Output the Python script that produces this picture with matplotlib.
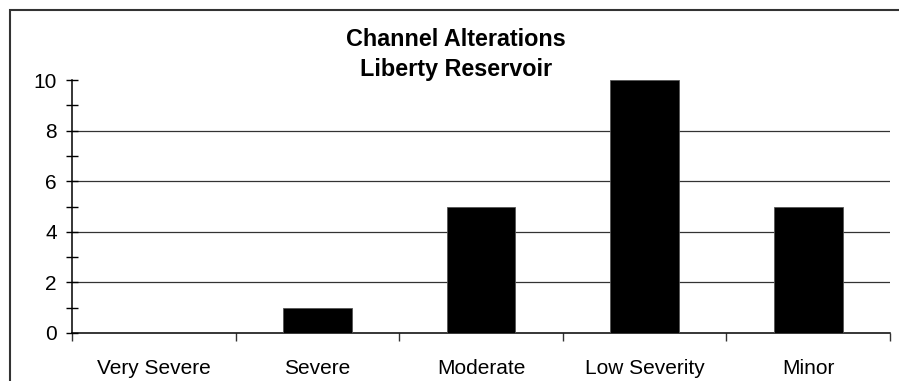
import matplotlib.pyplot as plt
from matplotlib.patches import Rectangle
from matplotlib.ticker import MultipleLocator
import numpy as np

# severity classes and counts
categories = ["Very Severe", "Severe", "Moderate", "Low Severity", "Minor"]
counts = [0, 1, 5, 10, 5]

plt.rcParams['font.family'] = ['Liberation Sans', 'DejaVu Sans']

fig = plt.figure(figsize=(8.99, 3.81), dpi=100)
ax = fig.add_axes([0.0801, 0.126, 0.9099, 0.664])

x = np.arange(len(categories))
ax.bar(x, counts, width=0.42, color="black", edgecolor="#555555", linewidth=0.6, zorder=3)

ax.set_xlim(-0.5, len(categories) - 0.5)
ax.set_ylim(0, 10)
ax.yaxis.set_major_locator(MultipleLocator(2))
ax.yaxis.set_minor_locator(MultipleLocator(1))

# category labels centred, ticks on the boundaries
ax.set_xticks(np.arange(len(categories) + 1) - 0.5)
ax.set_xticklabels([])
ax.set_xticks(x, minor=True)
ax.set_xticklabels(categories, minor=True, fontsize=15)
ax.tick_params(axis='x', which='major', direction='out', length=6, width=1, color='#333333')
ax.tick_params(axis='x', which='minor', length=0, pad=18.5)
ax.tick_params(axis='y', which='major', direction='inout', length=8, width=1, labelsize=15, pad=7)
ax.tick_params(axis='y', which='minor', direction='inout', length=8, width=1)

# horizontal gridlines, none along the top
for yv in [2, 4, 6, 8]:
    ax.axhline(yv, color="#333333", linewidth=0.9, zorder=1)

ax.spines['top'].set_visible(False)
ax.spines['right'].set_visible(False)
ax.spines['left'].set_linewidth(1.1)
ax.spines['bottom'].set_linewidth(1.1)

fig.text(456 / 899, 1 - 46 / 381, "Channel Alterations", ha='center', va='baseline',
         fontsize=16.8, fontweight='bold')
fig.text(456 / 899, 1 - 76 / 381, "Liberty Reservoir", ha='center', va='baseline',
         fontsize=16.8, fontweight='bold')

# chart area frame
fig.patches.append(Rectangle((9.5 / 899, -0.2), 1.2, 1.2 - 9.5 / 381,
                             transform=fig.transFigure, fill=False,
                             edgecolor="#333333", linewidth=1.5))

fig.savefig("out.png", dpi=100)
